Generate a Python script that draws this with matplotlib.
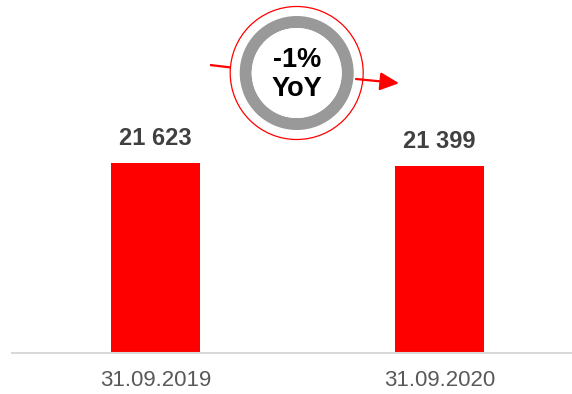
import matplotlib.pyplot as plt
from matplotlib.patches import Circle, Wedge, FancyArrowPatch

plt.rcParams['font.family'] = ['Liberation Sans', 'DejaVu Sans']

categories = ['31.09.2019', '31.09.2020']
values = [21623, 21399]
value_labels = ['21 623', '21 399']

W, H = 572, 394
fig = plt.figure(figsize=(W / 100, H / 100), dpi=100)

# main bar axes: baseline at y=353 px, left edge at x=12 px
ax = fig.add_axes([12 / W, (H - 353.3) / H, (W - 12) / W, 353.3 / H])
x = list(range(len(categories)))
ax.bar(x, values, width=0.313, color='#ff0000', zorder=2)
ax.set_xlim(-0.505, 1.4665)
ax.set_ylim(8700, 8700 + 353.3 * 67.9)
for s in ['top', 'right', 'left']:
    ax.spines[s].set_visible(False)
ax.spines['bottom'].set_color('#d9d9d9')
ax.spines['bottom'].set_linewidth(1.5)
ax.set_yticks([])
ax.set_xticks(x)
ax.set_xticklabels(categories, fontsize=16, color='#595959')
ax.tick_params(axis='x', length=0, pad=12)

for xi, v, lab in zip(x, values, value_labels):
    ax.annotate(lab, (xi, v), xytext=(0, 13), textcoords='offset points',
                ha='center', va='baseline', fontsize=17, fontweight='bold',
                color='#404040')

# overlay in pixel coordinates for the YoY badge
ov = fig.add_axes([0, 0, 1, 1])
ov.set_xlim(0, W)
ov.set_ylim(H, 0)
ov.axis('off')
cx, cy = 296.7, 73
ov.add_patch(Circle((cx, cy), 66.5, fill=False, edgecolor='#ff0000', linewidth=0.9))
ov.add_patch(Wedge((cx, cy), 57, 0, 360, width=12, facecolor='#999999', edgecolor='none'))
ov.add_patch(Circle((cx, cy), 45, facecolor='white', edgecolor='none'))
ov.text(cx, 60, '-1%', ha='center', va='center', fontsize=19.5, fontweight='bold', color='black')
ov.text(cx, 89, 'YoY', ha='center', va='center', fontsize=19.5, fontweight='bold', color='black')

ov.plot([210, 231], [65, 67.5], color='#ff0000', linewidth=1.6, solid_capstyle='butt')
ov.add_patch(FancyArrowPatch((356, 79), (399, 83.2),
                             arrowstyle='-|>,head_length=11.5,head_width=5.5',
                             color='#ff0000', linewidth=1.6, mutation_scale=1,
                             shrinkA=0, shrinkB=0))

fig.savefig('out.png', dpi=100)
